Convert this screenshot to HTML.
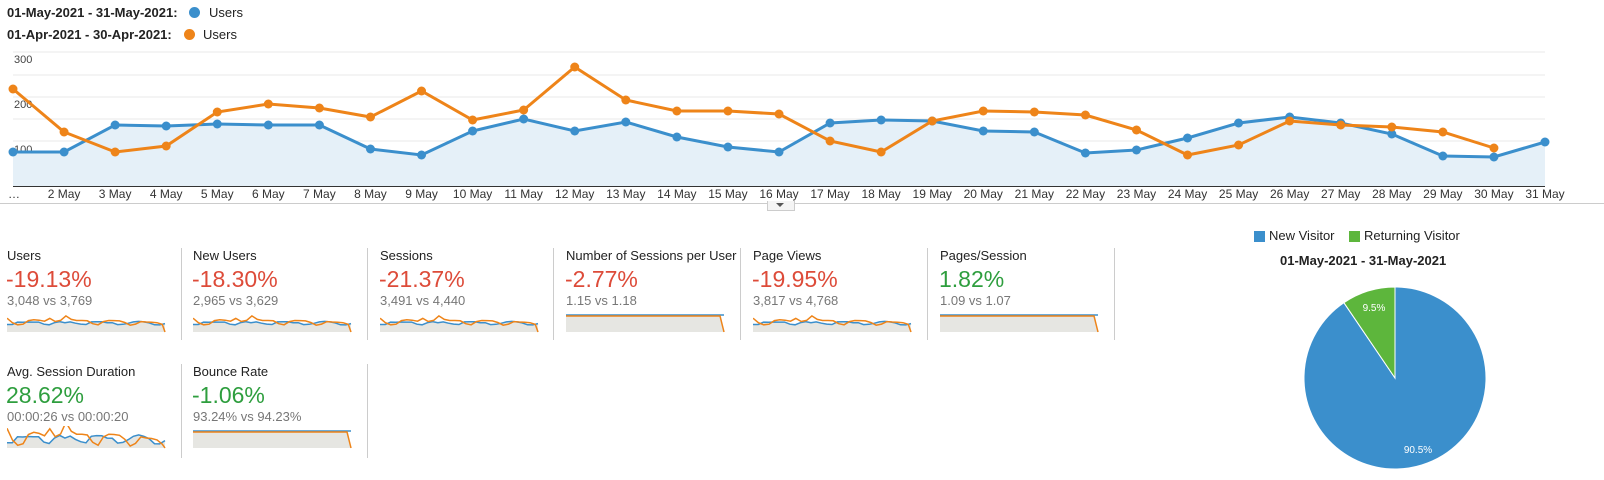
<!DOCTYPE html>
<html><head><meta charset="utf-8"><style>
body{margin:0;width:1604px;height:480px;background:#fff;font-family:"Liberation Sans",Arial,sans-serif;position:relative;overflow:hidden}
.a{position:absolute;white-space:nowrap}
.t{font-size:13px;color:#222}
.big{font-size:23px}
.red{color:#dd4b39}.grn{color:#2e9e3e}
.sub{font-size:13px;color:#777}
.div{position:absolute;width:1px;background:#ccc}
</style></head><body>
<div class="a" style="left:7px;top:5px;font-size:13px;font-weight:bold;color:#222">01-May-2021 - 31-May-2021:</div>
<div class="a" style="left:189px;top:7px;width:11px;height:11px;border-radius:50%;background:#3b8fcc"></div>
<div class="a" style="left:209px;top:5px;font-size:13px;color:#222">Users</div>
<div class="a" style="left:7px;top:27px;font-size:13px;font-weight:bold;color:#222">01-Apr-2021 - 30-Apr-2021:</div>
<div class="a" style="left:184px;top:29px;width:11px;height:11px;border-radius:50%;background:#ee8419"></div>
<div class="a" style="left:203px;top:27px;font-size:13px;color:#222">Users</div>
<svg id="main" class="a" style="left:0;top:0" width="1604" height="210"></svg>
<div class="a" style="left:767px;top:201px;width:26px;height:9px;border:1px solid #ccc;border-top:none;background:#f4f4f4"></div>
<div class="a" style="left:776px;top:203px;width:0;height:0;border-left:4px solid transparent;border-right:4px solid transparent;border-top:4px solid #555"></div>

<div id="tiles"></div>
<svg id="pie" class="a" style="left:0;top:0" width="1604" height="480"></svg>
<div class="a" style="left:1254px;top:231px;width:11px;height:11px;background:#3b8fcc"></div>
<div class="a" style="left:1269px;top:228px;font-size:13px;color:#222">New Visitor</div>
<div class="a" style="left:1349px;top:231px;width:11px;height:11px;background:#5db63c"></div>
<div class="a" style="left:1364px;top:228px;font-size:13px;color:#222">Returning Visitor</div>
<div class="a" style="left:1280px;top:253px;font-size:13px;font-weight:bold;color:#222">01-May-2021 - 31-May-2021</div>
<script>
var B=[152,152,125,126,124,125,125,149,155,131,119,131,122,137,147,152,123,120,121,131,132,153,150,138,123,117,123,134,156,157,142];
var O=[89,132,152,146,112,104,108,117,91,120,110,67,100,111,111,114,141,152,121,111,112,115,130,155,145,121,125,127,132,148];
function X(i){return 13+i*(1532/30);}
var s='';
[52,75,97,119,141,164].forEach(function(y){s+='<line x1="13" x2="1545" y1="'+y+'" y2="'+y+'" stroke="#e8e8e8"/>';});
var bp=B.map(function(y,i){return X(i)+','+y}).join(' ');
s+='<polygon points="13,186 '+bp+' 1545,186" fill="#e5f0f8"/>';
s+='<line x1="13" x2="1545" y1="186.5" y2="186.5" stroke="#333"/>';
s+='<line x1="0" x2="1604" y1="203.5" y2="203.5" stroke="#ccc"/>';
s+='<text x="14" y="63" font-size="11" fill="#444">300</text><text x="14" y="108" font-size="11" fill="#444">200</text><text x="14" y="153" font-size="11" fill="#444">100</text>';
s+='<polyline points="'+bp+'" fill="none" stroke="#3b8fcc" stroke-width="3"/>';
B.forEach(function(y,i){s+='<circle cx="'+X(i)+'" cy="'+y+'" r="4.5" fill="#3b8fcc"/>';});
var op=O.map(function(y,i){return X(i)+','+y}).join(' ');
s+='<polyline points="'+op+'" fill="none" stroke="#ee8419" stroke-width="3"/>';
O.forEach(function(y,i){s+='<circle cx="'+X(i)+'" cy="'+y+'" r="4.5" fill="#ee8419"/>';});
s+='<text x="8" y="198" font-size="12" fill="#333">…</text>';
for(var i=1;i<31;i++){s+='<text x="'+X(i)+'" y="198" font-size="12" fill="#333" text-anchor="middle">'+(i+1)+' May</text>';}
document.getElementById('main').innerHTML=s;

var T=[[7,248,'Users','-19.13%','red','3,048 vs 3,769',0],[193,248,'New Users','-18.30%','red','2,965 vs 3,629',0],[380,248,'Sessions','-21.37%','red','3,491 vs 4,440',0],[566,248,'Number of Sessions per User','-2.77%','red','1.15 vs 1.18',1],[753,248,'Page Views','-19.95%','red','3,817 vs 4,768',0],[940,248,'Pages/Session','1.82%','grn','1.09 vs 1.07',1],[7,364,'Avg. Session Duration','28.62%','grn','00:00:26 vs 00:00:20',2],[193,364,'Bounce Rate','-1.06%','grn','93.24% vs 94.23%',1]];
var h='';
T.forEach(function(t){
 h+='<div class="a t" style="left:'+t[0]+'px;top:'+t[1]+'px">'+t[2]+'</div>';
 h+='<div class="a big '+t[4]+'" style="left:'+(t[0]-1)+'px;top:'+(t[1]+18)+'px">'+t[3]+'</div>';
 h+='<div class="a sub" style="left:'+t[0]+'px;top:'+(t[1]+45)+'px">'+t[5]+'</div>';
 var y0=t[1]+62,w=158,sv='<svg class="a" style="left:'+t[0]+'px;top:'+y0+'px" width="'+(w+2)+'" height="24">';
 if(t[6]==1){
  sv+='<polygon points="0,6 '+(w-3)+',6 '+w+',22 0,22" fill="#e6e6e2"/><polyline points="0,5 '+(w-3)+',5 '+w+',5" fill="none" stroke="#3b8fcc" stroke-width="1.5"/><polyline points="0,6 '+(w-4)+',6 '+w+',22" fill="none" stroke="#ee8419" stroke-width="1.5"/>';
 } else {
  var amp=t[6]==2?0.9:0.35;
  var bb=B.map(function(y,i){return (i*w/30).toFixed(1)+','+(13+(y-135)*0.25*amp).toFixed(1)}).join(' ');
  var oo=O.map(function(y,i){return (i*w/29.5).toFixed(1)+','+(12+(y-125)*0.3*amp).toFixed(1)}).join(' ');
  sv+='<polygon points="0,22 '+bb+' '+w+',22" fill="#e6e6e2"/><polyline points="'+bb+'" fill="none" stroke="#3b8fcc" stroke-width="1.5"/><polyline points="'+oo+' '+w+',22" fill="none" stroke="#ee8419" stroke-width="1.5"/>';
 }
 h+=sv+'</svg>';
});
[181,367,553,740,927,1114].forEach(function(x){h+='<div class="div" style="left:'+x+'px;top:248px;height:92px"></div>';});
[181,367].forEach(function(x){h+='<div class="div" style="left:'+x+'px;top:364px;height:94px"></div>';});
document.getElementById('tiles').innerHTML=h;
document.getElementById('pie').innerHTML='<path d="M1395,378 L1395,287 A91,91 0 1,1 1343.9,302.7 Z" fill="#3b8fcc" stroke="#fff"/><path d="M1395,378 L1343.9,302.7 A91,91 0 0,1 1395,287 Z" fill="#5db63c" stroke="#fff"/><text x="1374" y="311" font-size="10" fill="#fff" text-anchor="middle">9.5%</text><text x="1418" y="453" font-size="10" fill="#fff" text-anchor="middle">90.5%</text>';
</script>
</body></html>
